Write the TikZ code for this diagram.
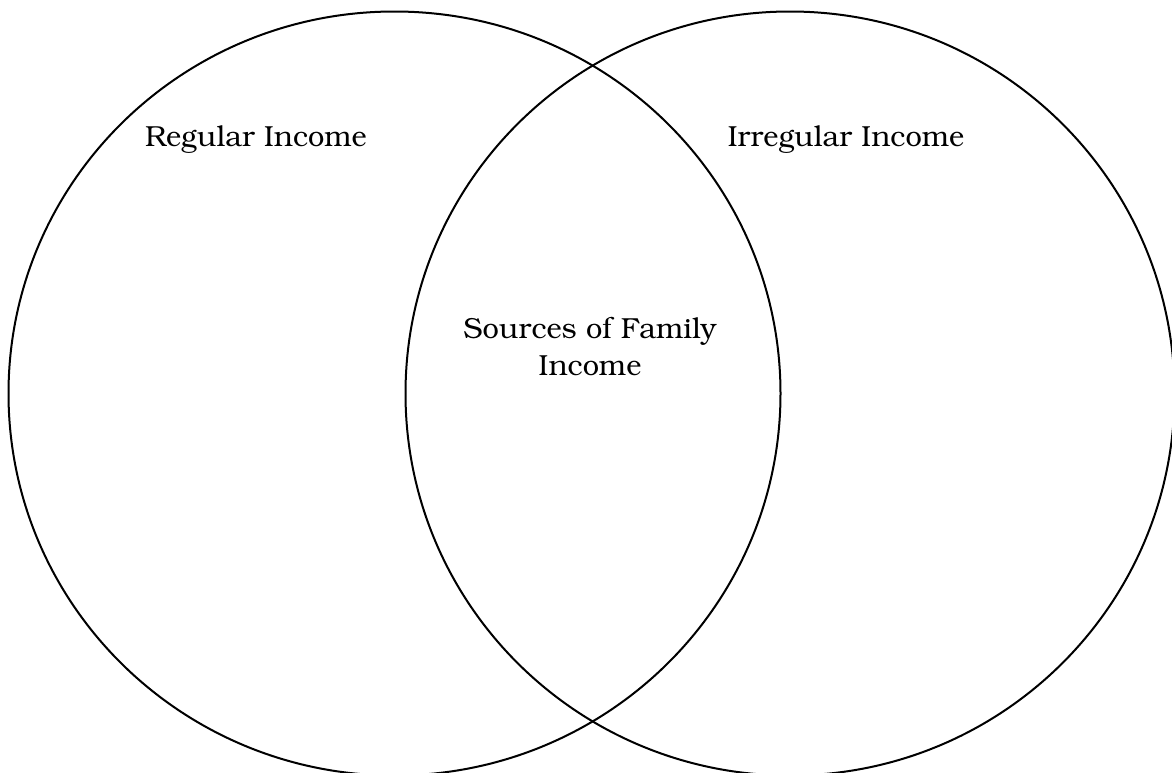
\documentclass[tikz,border=0pt]{standalone}
\usepackage[T1]{fontenc}
\usepackage{bookman}
\usepackage{tikz}
\usetikzlibrary{positioning, shapes.geometric}

\begin{document}
\begin{tikzpicture}[
        x=1pt, y=-1pt,
        set/.style = {
            draw,
            ellipse,
            line width=2pt,
            inner sep=0pt
        },
        label/.style = {
            font=\fontsize{29}{37}\selectfont,
            align=center
        }
    ]
        \useasboundingbox (0,0) rectangle (1172,772);
        \node[set, minimum width=772pt, minimum height=764pt](regular) at (394.5,393.5){};
        \node[set, minimum width=769pt, minimum height=764pt](irregular) at (790,393.5){};
        \node[label](reglabel) at (256,140){Regular Income};
        \node[label](irreglabel) at (846,140){Irregular Income};
        \node[label](sources) at (590,346){Sources of Family\\Income};
    \end{tikzpicture}
\end{document}
